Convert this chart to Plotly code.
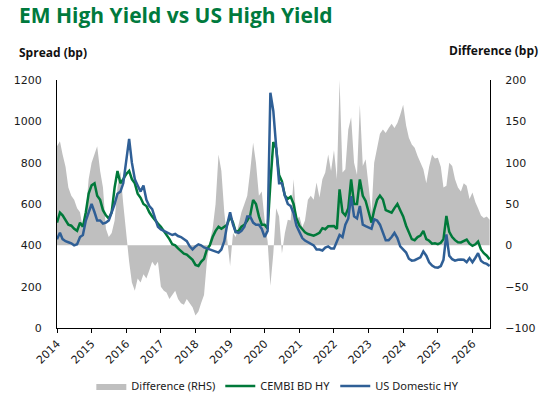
import pandas as pd
import plotly.graph_objects as go

# Monthly observations, Jan 2014 .. Jul 2026
dates = pd.date_range("2014-01-01", "2026-07-01", freq="MS")

cembi_hy = [
    510, 558, 545, 520, 500, 495, 480, 470, 510, 490, 560, 650,   # 2014
    690, 700, 640, 620, 570, 545, 530, 560, 680, 760, 700, 720,   # 2015
    745, 760, 720, 700, 650, 630, 600, 590, 560, 540, 520, 505,   # 2016
    490, 470, 450, 430, 405, 400, 385, 370, 360, 355, 340, 330,   # 2017
    305, 300, 320, 335, 380, 400, 440, 470, 490, 480, 490, 500,   # 2018
    540, 510, 465, 470, 490, 500, 520, 545, 620, 600, 540, 500,   # 2019
    500, 480, 700, 900, 870, 740, 710, 640, 625, 635, 600, 530,   # 2020
    495, 475, 463, 455, 452, 447, 453, 461, 483, 478, 492, 493,   # 2021
    493, 480, 671, 560, 545, 580, 719, 600, 600, 719, 640, 615,   # 2022
    560, 510, 570, 620, 640, 622, 570, 562, 558, 580, 600, 570,   # 2023
    540, 495, 465, 430, 425, 440, 447, 470, 430, 422, 408, 410,   # 2024
    406, 412, 430, 542, 465, 440, 425, 415, 414, 420, 428, 408,   # 2025
    398, 405, 418, 380, 362, 350, 332,                            # 2026
]

us_hy = [
    430, 461, 430, 420, 415, 410, 400, 405, 440, 450, 520, 560,   # 2014
    600, 560, 520, 520, 505, 510, 520, 560, 600, 650, 660, 700,   # 2015
    820, 915, 800, 720, 690, 660, 690, 620, 590, 575, 530, 490,   # 2016
    477, 470, 465, 460, 450, 455, 445, 440, 430, 420, 395, 380,   # 2017
    395, 405, 400, 390, 385, 380, 375, 370, 365, 380, 420, 500,   # 2018
    560, 500, 465, 460, 470, 490, 540, 540, 510, 500, 500, 480,   # 2019
    440, 470, 1138, 1050, 880, 700, 700, 640, 600, 590, 555, 495, # 2020
    465, 435, 423, 415, 410, 400, 380, 380, 375, 389, 395, 385,   # 2021
    385, 420, 450, 440, 500, 530, 638, 540, 530, 590, 500, 493,   # 2022
    485, 480, 526, 520, 500, 461, 425, 425, 440, 460, 435, 395,   # 2023
    380, 365, 335, 326, 328, 335, 342, 370, 350, 318, 302, 294,   # 2024
    292, 300, 330, 453, 350, 333, 326, 330, 332, 330, 318, 338,   # 2025
    318, 340, 362, 325, 315, 310, 300,                            # 2026
]

difference = [
    120, 126, 110, 95, 70, 60, 55, 45, 40, 20, 40, 80,            # 2014
    100, 110, 120, 90, 70, 20, 10, 15, 30, 70, 90, 50,            # 2015
    10, -20, -45, -55, -40, -45, -35, -40, -30, -20, -25, -20,    # 2016
    -50, -55, -57, -65, -60, -55, -65, -70, -72, -65, -70, -75,   # 2017
    -85, -80, -70, -60, -20, 5, 20, 50, 110, 90, 40, 10,          # 2018
    -25, 15, 10, 25, 40, 50, 60, 90, 124, 100, 60, 65,            # 2019
    30, 5, -49, -10, 45, 35, -10, 15, 31, 30, 80, 31,             # 2020
    35, 22, 30, 55, 60, 55, 76, 58, 80, 88, 110, 90,              # 2021
    115, 80, 200, 88, 92, 140, 155, 100, 85, 170, 96, 104,        # 2022
    70, 40, 100, 120, 135, 140, 136, 142, 147, 142, 148, 158,     # 2023
    170, 145, 130, 122, 118, 108, 100, 92, 75, 95, 110, 105,      # 2024
    106, 95, 70, 72, 100, 96, 80, 70, 65, 75, 72, 56,             # 2025
    64, 52, 45, 36, 33, 35, 31,                                   # 2026
]

year_ticks = [f"{y}-01-01" for y in range(2014, 2027)]
year_labels = [str(y) for y in range(2014, 2027)]

GREEN = "#00793A"
BLUE = "#2F5F96"
GREY = "#BFBFBF"
TICKFONT = dict(family="DejaVu Sans", size=11, color="#1a1a1a")

fig = go.Figure()
fig.add_trace(go.Scatter(
    x=dates, y=difference, name="Difference (RHS)", mode="lines",
    fill="tozeroy", fillcolor=GREY, line=dict(width=0, color=GREY),
    yaxis="y", xaxis="x",
))
fig.add_trace(go.Scatter(
    x=dates, y=cembi_hy, name="CEMBI BD HY", mode="lines",
    line=dict(color=GREEN, width=2.5), yaxis="y2", xaxis="x",
))
fig.add_trace(go.Scatter(
    x=dates, y=us_hy, name="US Domestic HY", mode="lines",
    line=dict(color=BLUE, width=2.5), yaxis="y2", xaxis="x",
))

fig.update_layout(
    width=543, height=401,
    margin=dict(l=57, r=53, t=80, b=73, autoexpand=False),
    paper_bgcolor="white", plot_bgcolor="white",
    showlegend=True,
    legend=dict(
        orientation="h", x=0.51, xanchor="center", y=-0.234, yanchor="middle",
        font=dict(family="Noto Sans", size=11, color="#1a1a1a"),
        itemwidth=30, tracegroupgap=0, bgcolor="rgba(0,0,0,0)",
    ),
    xaxis=dict(
        type="date", range=["2014-01-01", "2026-07-05"], automargin=False,
        tickvals=year_ticks, ticktext=year_labels, tickangle=-45,
        ticks="outside", ticklen=4, tickcolor="black",
        showline=True, linecolor="black", linewidth=1,
        showgrid=False, zeroline=False, tickfont=TICKFONT,
    ),
    yaxis=dict(
        side="right", range=[-100, 200], dtick=50, automargin=False,
        showline=True, linecolor="black", linewidth=1,
        showgrid=False, zeroline=False, ticks="",
        ticklabelstandoff=12, tickfont=TICKFONT,
    ),
    yaxis2=dict(
        overlaying="y", side="left", range=[0, 1200], dtick=200, automargin=False,
        showline=True, linecolor="black", linewidth=1,
        showgrid=False, zeroline=False, ticks="",
        ticklabelstandoff=12, tickfont=TICKFONT,
    ),
    annotations=[
        dict(text="<b>EM High Yield vs US High Yield</b>", xref="paper", yref="paper",
             x=-0.092, y=1.262, xanchor="left", yanchor="middle", showarrow=False,
             font=dict(family="Open Sans", size=21, color="#007A3D")),
        dict(text="<b>Spread (bp)</b>", xref="paper", yref="paper",
             x=-0.092, y=1.11, xanchor="left", yanchor="middle", showarrow=False,
             font=dict(family="Open Sans", size=12, color="#111111")),
        dict(text="<b>Difference (bp)</b>", xref="paper", yref="paper",
             x=1.115, y=1.12, xanchor="right", yanchor="middle", showarrow=False,
             font=dict(family="Open Sans", size=12, color="#111111")),
    ],
)

fig.write_html("out.html")
